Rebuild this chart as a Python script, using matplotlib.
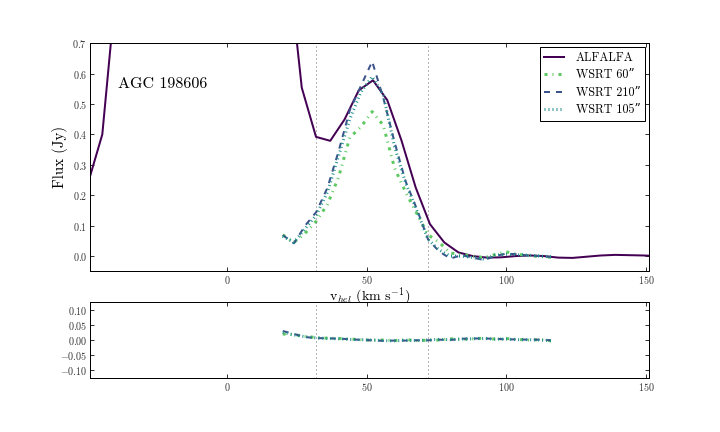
import matplotlib
matplotlib.use("Agg")
import matplotlib.pyplot as plt
import numpy as np

plt.rcParams['font.family'] = ['cmr10', 'DejaVu Serif']
plt.rcParams['mathtext.fontset'] = 'cm'
plt.rcParams['axes.formatter.use_mathtext'] = True
plt.rcParams['axes.unicode_minus'] = True
plt.rcParams['lines.scale_dashes'] = False
plt.rcParams['lines.dashed_pattern'] = [6, 6]
plt.rcParams['lines.dashdot_pattern'] = [3, 5, 1, 5]
plt.rcParams['lines.dotted_pattern'] = [1, 3]
plt.rcParams['xtick.direction'] = 'in'
plt.rcParams['ytick.direction'] = 'in'
plt.rcParams['xtick.top'] = True
plt.rcParams['ytick.right'] = True

# ---------------- data ----------------
alfalfa_v = [-49.7, -44.6, -39.5, -34.4, -29.3, -24.2, -19.1, -14.0, -8.9, -3.8,
             1.3, 6.4, 11.5, 16.6, 21.7, 26.8, 31.9, 37.0, 42.1, 47.2,
             52.3, 57.4, 62.5, 67.6, 72.7, 77.8, 82.9, 88.0, 93.1, 98.2,
             103.3, 108.4, 113.5, 118.6, 123.7, 128.8, 133.9, 139.0, 144.1, 149.2, 154.3]
alfalfa_flux = [0.24, 0.40, 0.90, 1.6, 2.6, 3.5, 4.2, 4.6, 4.8, 4.7,
                4.3, 3.6, 2.7, 1.8, 0.99, 0.554, 0.392, 0.379, 0.449, 0.545,
                0.578, 0.513, 0.38, 0.225, 0.105, 0.045, 0.012, 0.0, -0.005, -0.004,
                0.0, 0.002, 0.0, -0.005, -0.006, -0.002, 0.002, 0.004, 0.003, 0.002, 0.0]

wsrt_v = [20, 24, 28, 32, 36, 40, 44, 48, 52, 56, 60, 64, 68, 72, 76, 80,
          84, 88, 92, 96, 100, 104, 108, 112, 116]
wsrt60_flux = [0.07, 0.045, 0.075, 0.115, 0.17, 0.26, 0.39, 0.425, 0.475, 0.43,
               0.29, 0.21, 0.14, 0.07, 0.045, 0.01, 0.005, 0.0, -0.005, 0.005,
               0.014, 0.006, 0.002, -0.002, -0.004]
wsrt210_flux = [0.069, 0.042, 0.10, 0.145, 0.225, 0.345, 0.48, 0.56, 0.64, 0.52,
                0.375, 0.245, 0.155, 0.055, 0.015, -0.008, 0.003, -0.005, -0.013, 0.0,
                0.008, 0.006, 0.002, 0.0, -0.003]
wsrt105_flux = [0.065, 0.045, 0.09, 0.135, 0.21, 0.33, 0.45, 0.54, 0.59, 0.53,
                0.36, 0.24, 0.15, 0.055, 0.02, 0.0, 0.0, -0.005, -0.01, 0.003,
                0.006, 0.004, 0.003, 0.0, -0.002]

res60 = [0.020, 0.018, 0.012, 0.008, 0.006, 0.005, 0.003, 0.001, -0.001, 0.0,
         -0.002, 0.001, -0.002, -0.001, 0.000, 0.004, 0.002, 0.004, 0.006, 0.003,
         0.005, 0.002, 0.000, 0.001, -0.003]
res210 = [0.030, 0.020, 0.010, 0.006, 0.006, 0.004, 0.003, 0.000, -0.001, -0.003,
          -0.002, -0.002, -0.001, -0.001, 0.001, 0.000, 0.004, 0.005, 0.005, 0.004,
          0.002, 0.002, 0.001, 0.001, -0.001]
res105 = [0.025, 0.017, 0.011, 0.007, 0.005, 0.004, 0.002, 0.001, 0.000, -0.002,
          -0.003, -0.001, -0.002, 0.000, 0.002, 0.001, 0.003, 0.004, 0.005, 0.003,
          0.003, 0.001, 0.001, 0.000, -0.002]

vlines = [32, 72]
labels = ['ALFALFA', 'WSRT 60\u201d', 'WSRT 210\u201d', 'WSRT 105\u201d']
galaxy = 'AGC 198606'

c_alf = '#440154'
c60 = '#5ec962'
c210 = '#3b528b'
c105 = '#21918c'

fig = plt.figure(figsize=(10, 6), dpi=72)
ax = fig.add_axes([0.125, 0.372, 0.776, 0.528])
ax2 = fig.add_axes([0.125, 0.125, 0.776, 0.176])

ax.plot(alfalfa_v, alfalfa_flux, color=c_alf, lw=2, ls='-', label=labels[0])
ax.plot(wsrt_v, wsrt60_flux, color=c60, lw=3, ls='-.', label=labels[1])
ax.plot(wsrt_v, wsrt210_flux, color=c210, lw=2, ls='--', label=labels[2])
ax.plot(wsrt_v, wsrt105_flux, color=c105, lw=3, ls=':', label=labels[3])
for v in vlines:
    ax.axvline(v, color='#444444', lw=0.8, ls=':')
    ax2.axvline(v, color='#444444', lw=0.8, ls=':')

ax.set_xlim(-49, 151)
ax.set_ylim(-0.05, 0.7)
ax.set_xticks([0, 50, 100, 150])
ax.set_yticks([0.0, 0.1, 0.2, 0.3, 0.4, 0.5, 0.6, 0.7])
ax.set_ylabel('Flux (Jy)', fontsize=15)
ax.set_xlabel(r'v$_{hel}$ (km s$^{-1}$)', fontsize=14, labelpad=-1)
ax.text(0.05, 0.82, galaxy, transform=ax.transAxes, fontsize=16, va='center')
ax.tick_params(labelsize=10, length=4, pad=3, labelcolor='#333333')
leg = ax.legend(loc='upper right', fontsize=12, fancybox=False, framealpha=1,
                edgecolor='black', handlelength=1.6, handletextpad=1.0,
                borderaxespad=0.3, labelspacing=0.45)
leg.get_frame().set_linewidth(1.0)

ax2.plot(wsrt_v, res60, color=c60, lw=3, ls='-.')
ax2.plot(wsrt_v, res210, color=c210, lw=2, ls='--')
ax2.plot(wsrt_v, res105, color=c105, lw=3, ls=':')
ax2.set_xlim(-49, 151)
ax2.set_ylim(-0.127, 0.127)
ax2.set_xticks([0, 50, 100, 150])
ax2.set_yticks([-0.10, -0.05, 0.0, 0.05, 0.10])
ax2.yaxis.set_major_formatter(matplotlib.ticker.FormatStrFormatter(r'$%.2f$'))
ax2.tick_params(labelsize=10, length=4, pad=3, labelcolor='#333333')

for a in (ax, ax2):
    for s in a.spines.values():
        s.set_linewidth(1.0)

fig.savefig('out.png', dpi=72)
